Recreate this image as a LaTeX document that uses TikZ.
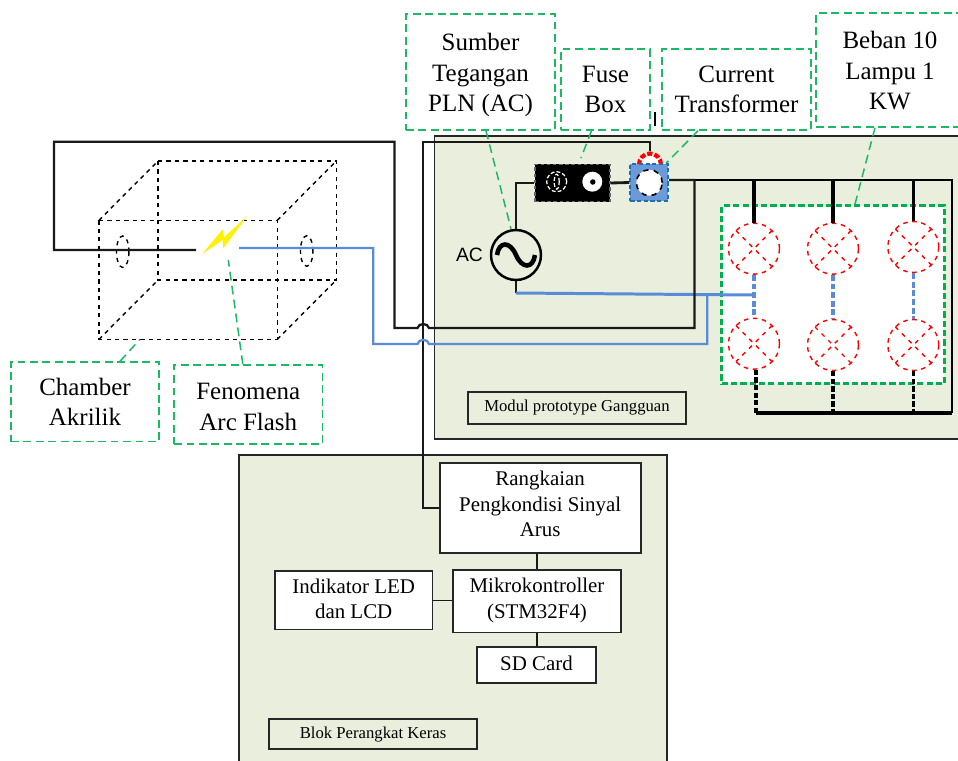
\documentclass[tikz,border=0pt]{standalone}
\usepackage{fontspec}
\setmainfont{Liberation Serif}
\newfontfamily\acfont{Liberation Sans}
\usepackage{xcolor}
\usetikzlibrary{shapes.geometric}
\definecolor{panelgreen}{HTML}{E9EFDC}
\definecolor{notegreen}{HTML}{1DB865}
\definecolor{loadgreen}{HTML}{00B050}
\definecolor{wireblue}{HTML}{5B8BD6}
\definecolor{ctblue}{HTML}{6C9AD8}
\definecolor{ctedge}{HTML}{1F6FB5}

\begin{document}
\begin{tikzpicture}[
    x=0.02cm, y=-0.02cm,
    panel/.style={rectangle, draw=black!85, line width=1pt, fill=panelgreen},
    block/.style={rectangle, draw=black!85, line width=1pt, fill=white, align=center, inner sep=0pt, font=\fontsize{11.9}{14.5}\selectfont},
    tag/.style={block, fill=none, font=\fontsize{9.5}{11}\selectfont},
    note/.style={rectangle, draw=notegreen, line width=0.85pt, dash pattern=on 4.5pt off 2.6pt, align=center, inner sep=0pt, font=\fontsize{14.2}{17.3}\selectfont},
    leader/.style={draw=notegreen, line width=0.85pt, dash pattern=on 5pt off 3pt},
    wire/.style={draw=black!90, line width=1.3pt},
    bluewire/.style={draw=wireblue, line width=1.3pt},
    feed/.style={draw=black, line width=1.9pt},
    chamber/.style={draw=black, line width=0.8pt, dash pattern=on 2.4pt off 2.4pt},
    lamp/.style={circle, draw=red, line width=0.8pt, dash pattern=on 2.6pt off 2.6pt, fill=white, minimum size=1.02cm, inner sep=0pt,
        path picture={
            \draw[red, line width=0.8pt, dash pattern=on 2.4pt off 3pt, dash phase=4.9pt] (path picture bounding box.north west) -- (path picture bounding box.south east);
            \draw[red, line width=0.8pt, dash pattern=on 2.4pt off 3pt, dash phase=4.9pt] (path picture bounding box.north east) -- (path picture bounding box.south west);
        }},
    bluelink/.style={draw=wireblue, line width=1.9pt, dash pattern=on 3.4pt off 1.5pt},
    blacklink/.style={draw=black, line width=1.9pt, dash pattern=on 3pt off 1.3pt}
]
\useasboundingbox (0,0) rectangle (958,761);

% panels
\node[panel, minimum width=10.9cm, minimum height=6.06cm] (modul) at (707,287.5) {};
\node[panel, minimum width=8.55cm, minimum height=6.6cm] (perangkat) at (453,620) {};

% hardware blocks
\node[block, minimum width=4.02cm, minimum height=1.79cm] (rangkaian) at (540.2,508) {Rangkaian\\Pengkondisi Sinyal\\Arus\rule[-4.5pt]{0pt}{1pt}};
\node[block, minimum width=3.35cm, minimum height=1.25cm] (mikro) at (537,601.3) {Mikrokontroller\\(STM32F4)\rule[-3.5pt]{0pt}{1pt}};
\node[block, minimum width=3.15cm, minimum height=1.17cm] (indikator) at (353.7,600.3) {Indikator LED\\dan LCD\rule[-1.5pt]{0pt}{1pt}};
\node[block, minimum width=2.38cm, minimum height=0.71cm] (sdcard) at (536.5,665) {SD Card\rule[-2.5pt]{0pt}{1pt}};
\node[tag, minimum width=4.17cm, minimum height=0.6cm] (blok) at (373,733.7) {\rule{0pt}{8pt}Blok Perangkat Keras};
\node[tag, minimum width=4.36cm, minimum height=0.64cm] (modultag) at (577,408) {Modul prototype Gangguan\rule[-3pt]{0pt}{1pt}};

\draw[wire, line width=0.9pt] (mikro.north) -- (mikro.north |- rangkaian.south);
\draw[wire, line width=0.9pt] (mikro.south) -- (mikro.south |- sdcard.north);
\draw[wire, line width=0.9pt] (indikator.east) -- (indikator.east -| mikro.west);

% notes
\node[note, minimum width=2.97cm, minimum height=1.59cm] (chambernote) at (85,401.8) {Chamber\\Akrilik};
\node[note, minimum width=2.97cm, minimum height=1.59cm] (arcnote) at (248.3,404.5) {\rule{0pt}{12pt}Fenomena\\Arc Flash};
\node[note, minimum width=2.98cm, minimum height=2.32cm] (sumbernote) at (480.5,72) {\rule{0pt}{13.5pt}Sumber\\Tegangan\\PLN (AC)};
\node[note, minimum width=1.78cm, minimum height=1.62cm] (fusenote) at (605.5,89.5) {Fuse\\Box};
\node[note, minimum width=2.98cm, minimum height=1.62cm] (ctnote) at (736.5,89.5) {Current\\Transformer};
\node[note, minimum width=2.96cm, minimum height=2.28cm] (bebannote) at (890,70) {\rule{0pt}{10.5pt}Beban 10\\Lampu 1\\KW};

% chamber
\coordinate (fa) at (99,220.3);
\coordinate (fb) at (277.3,220.3);
\coordinate (fc) at (277.3,339.3);
\coordinate (fd) at (99,339.3);
\coordinate (ba) at (158,161);
\coordinate (bb) at (336.3,161);
\coordinate (bc) at (336.3,280);
\coordinate (bd) at (158,280);
\draw[chamber] (fa) -- (fb) -- (fc) -- (fd) -- cycle;
\draw[chamber] (ba) -- (bb) -- (bc) -- (bd) -- cycle;
\draw[chamber] (fa) -- (ba);
\draw[chamber] (fb) -- (bb);
\draw[chamber] (fc) -- (bc);
\draw[chamber] (fd) -- (bd);
\node[ellipse, chamber, minimum width=0.25cm, minimum height=0.63cm, inner sep=0pt] (holea) at (122.7,251.7) {};
\node[ellipse, chamber, minimum width=0.25cm, minimum height=0.61cm, inner sep=0pt] (holeb) at (306.7,251) {};
\fill[yellow] (247.3,216) -- (223.3,248.3) -- (222.7,240) -- (202.3,254) -- (222.7,229.3) -- (224,237.3) -- cycle;

% source, fuse, current transformer
\node[circle, draw=black, line width=1.4pt, fill=panelgreen, minimum size=1cm, inner sep=0pt] (ac) at (516,255) {};
\draw[line width=2.6pt, black] (497,255) .. controls (499,241) and (510,241) .. (516,255) .. controls (522,269) and (533,269) .. (535,255);
\node[font=\acfont\fontsize{11}{13}\selectfont, inner sep=0pt] (aclabel) at (469.5,255) {AC};
\node[rectangle, draw=black!60, fill=black, line width=0.6pt, dash pattern=on 2pt off 1.5pt, minimum width=1.5cm, minimum height=0.75cm, inner sep=0pt] (fuse) at (572.5,183) {};
\node[ellipse, draw=white, line width=0.7pt, dash pattern=on 2.2pt off 1.2pt, minimum width=0.4cm, minimum height=0.4cm, inner sep=0pt] (fuseleft) at (556.7,181.7) {};
\node[ellipse, draw=white, line width=0.7pt, dash pattern=on 2.2pt off 1.2pt, minimum width=0.1cm, minimum height=0.3cm, inner sep=0pt] (fusepin) at (556.7,181.7) {};
\node[circle, fill=white, minimum size=0.4cm, inner sep=0pt] (fuseright) at (592.3,181.7) {};
\node[circle, fill=black, minimum size=0.11cm, inner sep=0pt] (fusedot) at (592.8,182) {};
\node[circle, draw=red, line width=2.4pt, dash pattern=on 3pt off 1.2pt, fill=white, minimum size=0.44cm, inner sep=0pt] (coil) at (650,164.5) {};
\node[rectangle, draw=ctedge, line width=1pt, dash pattern=on 2.4pt off 1.4pt, fill=ctblue, minimum width=0.76cm, minimum height=0.74cm, inner sep=0pt] (ct) at (649.3,182.5) {};
\node[circle, draw=black, line width=0.9pt, dash pattern=on 3pt off 3pt, fill=white, minimum size=0.52cm, inner sep=0pt] (cthole) at (649.3,182.7) {};

% load
\node[rectangle, draw=loadgreen, line width=1.9pt, dash pattern=on 3.5pt off 1.8pt, fill=white, minimum width=4.45cm, minimum height=3.56cm, inner sep=0pt] (load) at (833,294.8) {};
\node[lamp] (lampa) at (754,248.7) {};
\node[lamp] (lampb) at (833,248.7) {};
\node[lamp] (lampc) at (913.3,247) {};
\node[lamp] (lampd) at (754,343.7) {};
\node[lamp] (lampe) at (833,345) {};
\node[lamp] (lampf) at (913.3,345) {};

\coordinate (feedtop) at (952,180);
\coordinate (feedbot) at (952,413);
\coordinate (ctout) at (694.5,180);
\coordinate (lampdfoot) at (756,413);

\draw[line width=1.4pt, black] (ct.east |- feedtop) -- (feedtop) -- (feedbot);
\draw[line width=1.9pt, black] (feedbot) -- (lampdfoot);
\draw[feed] (lampa.north) -- (lampa.north |- feedtop);
\draw[feed] (lampb.north) -- (lampb.north |- feedtop);
\draw[feed] (lampc.north) -- (lampc.north |- feedtop);
\draw[bluelink] (lampa.south) -- (lampd.north);
\draw[bluelink] (lampb.south) -- (lampe.north);
\draw[bluelink] (lampc.south) -- (lampf.north);
\draw[blacklink] (lampdfoot |- lampd.south) -- (lampdfoot);
\draw[blacklink] (lampe.south) -- (lampe.south |- feedbot);
\draw[blacklink] (lampf.south) -- (lampf.south |- feedbot);

% wiring
\coordinate (tapin) at (423.3,141.7);
\coordinate (leftin) at (196,250);
\coordinate (rightin) at (239,248);
\coordinate (acfoot) at (516,293);
\coordinate (loadtap) at (753,295);
\coordinate (branch) at (707.3,295);
\draw[wire, line width=1.6pt] (ac.north) -- (ac.north |- fuse.west) -- (fuse.west);
\draw[wire, line width=1.6pt] (fuse.east) -- (ct.west);
\draw[wire, line width=1.6pt] (ac.south) -- (acfoot);
\draw[bluewire, line width=1.7pt] (acfoot) -- (loadtap);
\draw[wire] (rangkaian.west) -- (rangkaian.west -| tapin) -- (tapin) -- (tapin -| coil.north) -- (coil.north);
\draw[wire] (leftin) -- (54,250) -- (54,141.7) -- (394.5,141.7) -- (394.5,328) -- (417.5,328)
    .. controls (418.5,322.7) and (428,322.7) .. (429,328) -- (694.5,328) -- (ctout) -- (ct.east |- ctout);
\draw[bluewire] (rightin) -- (373.3,248) -- (373.3,344) -- (417.5,344)
    .. controls (418.5,338.5) and (428,338.5) .. (429,344) -- (707.3,344) -- (branch);

% leaders
\coordinate (chambertip) at (140,339.3);
\coordinate (arctip) at (228.3,260);
\coordinate (fusetip) at (581,158);
\draw[leader] ([xshift=0.7cm]chambernote.north) -- (chambertip);
\draw[leader] ([xshift=-0.11cm]arcnote.north) -- (arctip);
\draw[leader] ([xshift=0.11cm]sumbernote.south) -- ([xshift=-0.1cm]ac.north);
\draw[leader] ([xshift=-0.28cm]fusenote.south) -- (fusetip);
\draw[leader] ([xshift=-0.77cm]ctnote.south) -- ([xshift=-0.06cm]ct.north east);
\draw[leader] ([xshift=-0.3cm]bebannote.south) -- ([xshift=0.44cm]load.north);

% stray mark
\coordinate (marktop) at (655,112);
\coordinate (markbot) at (655,126);
\draw[black, line width=0.6pt] (marktop) -- (markbot);
\end{tikzpicture}
\end{document}
